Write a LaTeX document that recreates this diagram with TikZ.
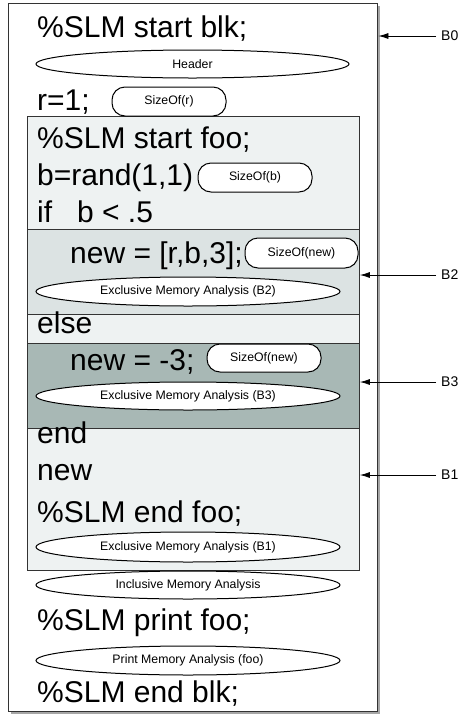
\documentclass[tikz,border=0pt]{standalone}
\usepackage{fontspec}
\setmainfont{Liberation Sans}
\usetikzlibrary{shapes.geometric,arrows.meta}
\definecolor{bonegray}{HTML}{EEF2F2}
\definecolor{btwogray}{HTML}{DCE3E3}
\definecolor{bthreegray}{HTML}{A8B8B5}
\definecolor{edgegray}{HTML}{333333}
\tikzset{
  code/.style={anchor=base west, inner sep=0pt, font=\fontsize{30}{30}\selectfont},
  oval/.style={ellipse, draw=black, fill=white, line width=1pt, inner sep=0pt,
    minimum width=304pt, minimum height=29pt, font=\fontsize{12.3}{12.3}\selectfont},
  pill/.style={rectangle, rounded corners=13pt, draw=black, fill=white, line width=1pt, inner sep=0pt,
    minimum width=114pt, minimum height=29pt, font=\fontsize{12.3}{12.3}\selectfont},
  blk/.style={rectangle, anchor=north west, draw=edgegray, line width=0.9pt, inner sep=0pt},
  blabel/.style={anchor=west, inner sep=5pt, font=\fontsize{14}{14}\selectfont},
  arr/.style={-{Latex[length=10pt,width=6pt]}, line width=0.8pt}
}
\begin{document}
\begin{tikzpicture}[x=1pt,y=-1pt]
\useasboundingbox (0,0) rectangle (474,721);
% outer block B0 with shadow
\fill[black!35] (11,6) rectangle (380,714);
\node[blk, fill=white, line width=1.4pt, minimum width=369pt, minimum height=708pt] (B0) at (8,3) {};
% B1 block
\node[blk, fill=bonegray, minimum width=332pt, minimum height=454pt] (B1) at (27,116) {};
% B2 block
\node[blk, fill=btwogray, minimum width=332pt, minimum height=85pt] (B2) at (27,229) {};
% B3 block
\node[blk, fill=bthreegray, minimum width=332pt, minimum height=85pt] (B3) at (27,343) {};

% code lines
\node[code] (t1) at (37,37) {\%SLM start blk;};
\node[oval, minimum width=313pt, minimum height=28pt] (hdr) at (192.5,64) {Header};
\node[code] (t2) at (37,110) {r=1;};
\node[pill] (sr) at (169,101.5) {SizeOf(r)};
\node[code] (t3) at (37,148) {\%SLM start foo;};
\node[code] (t4) at (37,185) {b=rand(1,1)};
\node[pill] (sb) at (255,177.5) {SizeOf(b)};
\node[code] (t5) at (37,222) {if\hspace{0.83em}b < .5};
\node[code] (t6) at (70,263) {new = [r,b,3];};
\node[pill, minimum width=113pt, minimum height=30pt] (sn1) at (301.5,253) {SizeOf(new)};
\node[oval] (e2) at (188,291.5) {Exclusive Memory Analysis (B2)};
\node[code] (t7) at (37,333) {else};
\node[code] (t8) at (70,370) {new = -3;};
\node[pill, minimum height=28pt] (sn2) at (264,358) {SizeOf(new)};
\node[oval, minimum height=28pt] (e3) at (188,396) {Exclusive Memory Analysis (B3)};
\node[code] (t9) at (37,443) {end};
\node[code] (t10) at (37,480) {new};
\node[code] (t11) at (37,522) {\%SLM end foo;};
\node[oval, minimum height=30pt] (e1) at (188,547) {Exclusive Memory Analysis (B1)};
\node[oval, minimum height=28pt] (inc) at (188,585) {Inclusive Memory Analysis};
\node[code] (t12) at (37,630) {\%SLM print foo;};
\node[oval] (pma) at (188,660.5) {Print Memory Analysis (foo)};
\node[code] (t13) at (37,702) {\%SLM end blk;};

% labels and arrows
\node[blabel] (l0) at (436,36) {B0};
\node[blabel] (l2) at (436,275) {B2};
\node[blabel] (l3) at (436,382) {B3};
\node[blabel] (l1) at (436,475) {B1};
\draw[arr] (l0.west) -- (l0.west -| B0.east);
\draw[arr] (l2.west) -- (l2.west -| B1.east);
\draw[arr] (l3.west) -- (l3.west -| B1.east);
\draw[arr] (l1.west) -- (l1.west -| B1.east);
\end{tikzpicture}
\end{document}
